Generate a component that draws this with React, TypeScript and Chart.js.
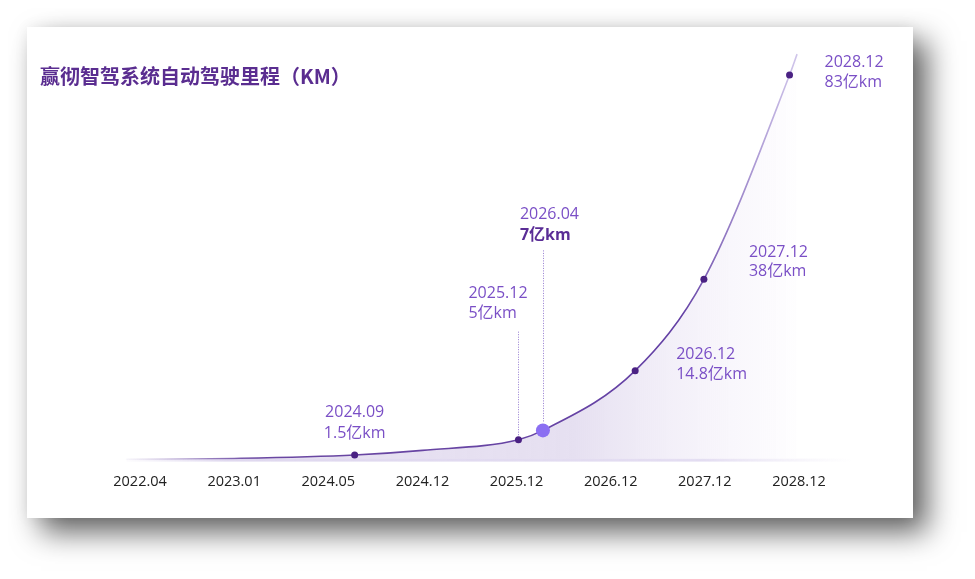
import React, { useEffect, useRef } from "react";
import { Chart, registerables } from "chart.js";

Chart.register(...registerables);

// ---- data ----
const titleText = "赢彻智驾系统自动驾驶里程（KM）";
const tickLabels = ["2022.04", "2023.01", "2024.05", "2024.12", "2025.12", "2026.12", "2027.12", "2028.12"];
// smooth mileage curve as drawn (x in tick-index units, y in 亿km)
const curveX = [-0.15, 1.0, 2.28, 3.0, 4.02, 4.28, 5.26, 5.99, 6.9, 6.98];
const curveY = [0, 0.25, 1.0, 2.0, 4.3, 6.3, 19.2, 38.9, 83, 87.5];
// highlighted milestones
const markerDates = ["2024.09", "2025.12", "2026.04", "2026.12", "2027.12", "2028.12"];
const markerValues = ["1.5亿km", "5亿km", "7亿km", "14.8亿km", "38亿km", "83亿km"];
const markerX = [2.28, 4.02, 4.28, 5.26, 5.99, 6.9];
const markerY = [1.0, 4.3, 6.3, 19.2, 38.9, 83];

// ---- styles ----
const FONT = "'Open Sans', 'Noto Sans CJK SC', sans-serif";
const LABEL_COLOR = "#7a4fc6";
const LABEL_BOLD_COLOR = "#5a2d96";
const labelLayout = [
  { align: "center", dx: 0, dy1: -43, dy2: -22, bold: false, guide: null },
  { align: "left", dx: -50, dy1: -146, dy2: -126, bold: false, guide: [-108, -4] },
  { align: "left", dx: -23, dy1: -216, dy2: -195, bold: true, guide: [-180, -8] },
  { align: "left", dx: 41, dy1: -16, dy2: 4, bold: false, guide: null },
  { align: "left", dx: 45, dy1: -27, dy2: -8, bold: false, guide: null },
  { align: "left", dx: 35, dy1: -13, dy2: 7, bold: false, guide: null },
];

const annotationPlugin = {
  id: "annotations",
  beforeDatasetsDraw(chart: any) {
    const { ctx, chartArea } = chart;
    const y0 = chart.scales.y.getPixelForValue(0);
    ctx.save();
    const g = ctx.createLinearGradient(chartArea.left, 0, chartArea.right + 30, 0);
    g.addColorStop(0, "rgba(210,200,232,0)");
    g.addColorStop(0.15, "rgba(210,200,232,0.7)");
    g.addColorStop(0.8, "rgba(220,212,238,0.8)");
    g.addColorStop(1, "rgba(230,225,242,0)");
    ctx.fillStyle = g;
    ctx.fillRect(chartArea.left + 10, y0 - 1, chartArea.right - chartArea.left + 20, 3);
    ctx.restore();
  },
  afterDatasetsDraw(chart: any) {
    const { ctx } = chart;
    const xs = chart.scales.x;
    const ys = chart.scales.y;
    ctx.save();
    markerX.forEach((mx, i) => {
      const px = xs.getPixelForValue(mx);
      const py = ys.getPixelForValue(markerY[i]);
      const L = labelLayout[i];
      if (L.guide) {
        ctx.beginPath();
        ctx.setLineDash([1, 1.5]);
        ctx.strokeStyle = "rgba(130,100,200,0.85)";
        ctx.lineWidth = 1;
        ctx.moveTo(Math.round(px) + 0.5, py + L.guide[0]);
        ctx.lineTo(Math.round(px) + 0.5, py + L.guide[1]);
        ctx.stroke();
        ctx.setLineDash([]);
      }
      ctx.textAlign = L.align;
      ctx.textBaseline = "middle";
      ctx.fillStyle = LABEL_COLOR;
      ctx.font = `16px ${FONT}`;
      ctx.fillText(markerDates[i], px + L.dx, py + L.dy1);
      ctx.fillStyle = L.bold ? LABEL_BOLD_COLOR : LABEL_COLOR;
      ctx.font = `${L.bold ? "bold " : ""}16px ${FONT}`;
      ctx.fillText(markerValues[i], px + L.dx, py + L.dy2);
    });
    ctx.restore();
  },
};

export default function App() {
  const ref = useRef<HTMLCanvasElement | null>(null);

  useEffect(() => {
    const canvas = ref.current;
    if (!canvas) return;
    const chart = new Chart(canvas, {
      type: "line",
      data: {
        datasets: [
          {
            type: "scatter",
            data: markerX.map((x, i) => ({ x, y: markerY[i] })),
            pointRadius: markerX.map((_, i) => (i === 2 ? 7 : 3.5)),
            pointHoverRadius: markerX.map((_, i) => (i === 2 ? 7 : 3.5)),
            pointBackgroundColor: markerX.map((_, i) => (i === 2 ? "#8b6ff2" : "#4a2183")),
            pointBorderWidth: 0,
            showLine: false,
            order: 0,
          } as any,
          {
            data: curveX.map((x, i) => ({ x, y: curveY[i] })),
            cubicInterpolationMode: "monotone",
            pointRadius: 0,
            borderWidth: 1.6,
            borderColor: (c: any) => {
              const a = c.chart.chartArea;
              if (!a) return "#5b3598";
              const g = c.chart.ctx.createLinearGradient(a.left, 0, a.right, 0);
              g.addColorStop(0, "rgba(91,53,152,0)");
              g.addColorStop(0.2, "rgba(91,53,152,0.9)");
              g.addColorStop(0.8, "rgba(100,65,165,1)");
              g.addColorStop(0.97, "rgba(200,188,232,0.8)");
              g.addColorStop(1, "rgba(220,210,240,0.5)");
              return g;
            },
            fill: "origin",
            backgroundColor: (c: any) => {
              const a = c.chart.chartArea;
              if (!a) return "rgba(230,224,242,0.8)";
              const g = c.chart.ctx.createLinearGradient(a.left, 0, a.right, 0);
              g.addColorStop(0, "rgba(232,226,242,0)");
              g.addColorStop(0.2, "rgba(228,221,240,0.9)");
              g.addColorStop(0.65, "rgba(230,224,241,1)");
              g.addColorStop(0.93, "rgba(250,248,253,0.6)");
              g.addColorStop(1, "rgba(255,255,255,0)");
              return g;
            },
            order: 1,
          } as any,
        ],
      },
      options: {
        animation: false,
        responsive: true,
        maintainAspectRatio: false,
        layout: { padding: { left: 89.5, right: 90.5, top: 22.5, bottom: 13 } },
        plugins: { legend: { display: false }, tooltip: { enabled: false }, title: { display: false } },
        scales: {
          x: {
            type: "linear",
            min: -0.25,
            max: 7.25,
            grid: { display: false, drawTicks: false },
            border: { display: false },
            afterBuildTicks: (axis: any) => {
              axis.ticks = tickLabels.map((_, i) => ({ value: i }));
            },
            ticks: {
              padding: 14,
              color: "#222",
              font: { size: 14.5, family: FONT },
              maxRotation: 0,
              autoSkip: false,
              callback: (v: any) => tickLabels[Math.round(Number(v))] ?? "",
            },
          },
          y: { type: "linear", min: 0, max: 88.5, display: false },
        },
      },
      plugins: [annotationPlugin],
    });
    return () => chart.destroy();
  }, []);

  return (
    <div style={{ position: "relative", width: 959, height: 563 }}>
      <div
        style={{
          position: "absolute",
          left: 19,
          top: 19,
          width: 886,
          height: 491,
          background: "#fff",
          boxShadow: "14px 14px 28px rgba(0,0,0,0.62), 0 0 14px rgba(0,0,0,0.06)",
        }}
      >
        <div
          style={{
            position: "absolute",
            left: 13,
            top: 38,
            fontFamily: "'Noto Sans CJK SC', sans-serif",
            fontWeight: 700,
            fontSize: 20,
            lineHeight: "22px",
            color: "#5a2d90",
            whiteSpace: "nowrap",
            zIndex: 1,
          }}
        >
          {titleText}
        </div>
        <div style={{ position: "absolute", left: 0, top: 0, width: 886, height: 491 }}>
          <canvas ref={ref} />
        </div>
      </div>
    </div>
  );
}
